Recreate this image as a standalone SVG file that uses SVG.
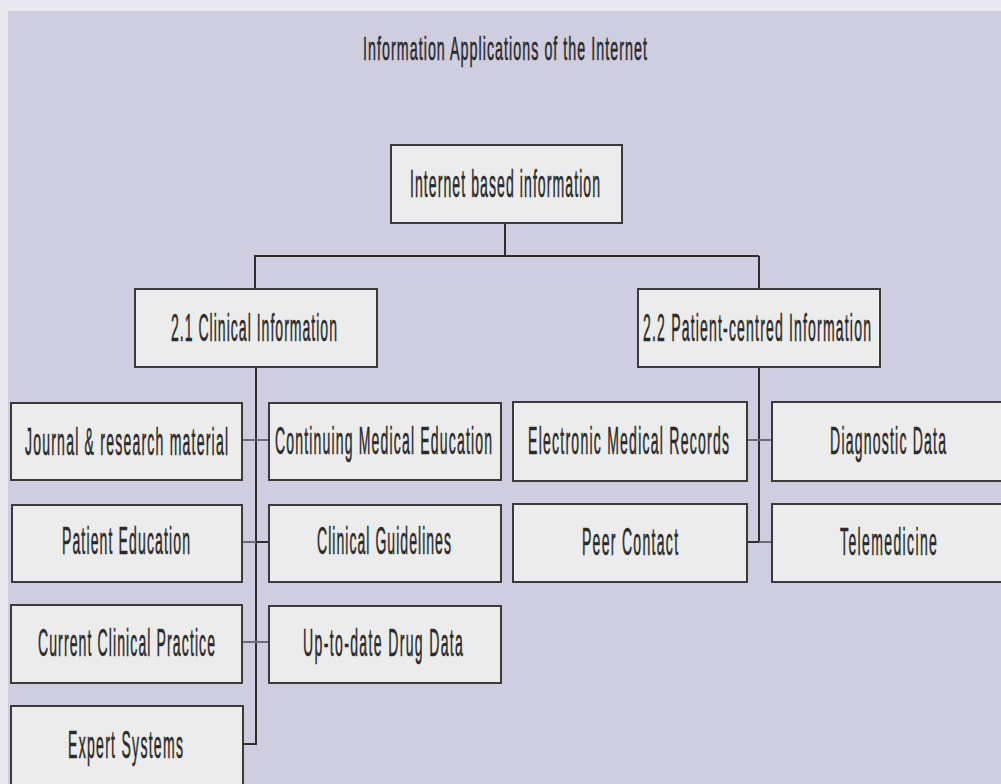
<svg xmlns="http://www.w3.org/2000/svg" width="1001" height="784" viewBox="0 0 1001 784">
<style>
.box{fill:#ececec;stroke:#3a3a3a;stroke-width:2}
.lbl{font-family:"Liberation Sans",Arial,sans-serif;font-size:39px;fill:#2a2a2a;stroke:#2a2a2a;stroke-width:0.6;text-anchor:middle}
.ttl{font-family:"Liberation Sans",Arial,sans-serif;font-size:34px;fill:#2a2a2a;stroke:#2a2a2a;stroke-width:0.6;text-anchor:middle}
.ln{stroke:#2e2e2e;stroke-width:2;fill:none}
.lt{stroke:#6a6a78;stroke-width:2;fill:none}
</style>
<rect x="0" y="0" width="1001" height="784" fill="#e8e8ee"/>
<rect x="8" y="11" width="993" height="773" fill="#cfcde0"/>
<text class="ttl" transform="translate(505,60) scale(0.42,1)" x="0" y="0" textLength="676" lengthAdjust="spacing">Information Applications of the Internet</text>
<g id="connectors">
<path class="ln" d="M505,223 V256 M255,256 H759 M255,255 V289 M759,256 V289"/>
<path class="ln" d="M256,367 V744 H243"/>
<path class="lt" d="M242,440 H269 M242,542 H256 M242,642 H269"/>
<path class="ln" d="M256,542 H269"/>
<path class="ln" d="M759,367 V542 H747"/>
<path class="lt" d="M747,440 H772 M759,542 H772"/>
</g>
<g id="n-root"><rect class="box" x="391" y="145" width="231" height="78"/><text class="lbl" transform="translate(505,197) scale(0.36,1)" x="0" y="0" textLength="528" lengthAdjust="spacing">Internet based information</text></g>
<g id="n-clinical"><rect class="box" x="135" y="289" width="242" height="78"/><text class="lbl" transform="translate(254,341) scale(0.36,1)" x="0" y="0" textLength="461" lengthAdjust="spacing">2.1 Clinical Information</text></g>
<g id="n-patient"><rect class="box" x="638" y="289" width="242" height="78"/><text class="lbl" transform="translate(757,341) scale(0.36,1)" x="0" y="0" textLength="633" lengthAdjust="spacing">2.2 Patient-centred Information</text></g>
<g id="n-journal"><rect class="box" x="11" y="403" width="231" height="77"/><text class="lbl" transform="translate(126.5,455) scale(0.36,1)" x="0" y="0" textLength="564" lengthAdjust="spacing">Journal &amp; research material</text></g>
<g id="n-cme"><rect class="box" x="269" y="403" width="232" height="77"/><text class="lbl" transform="translate(383.5,454) scale(0.36,1)" x="0" y="0" textLength="603" lengthAdjust="spacing">Continuing Medical Education</text></g>
<g id="n-pated"><rect class="box" x="12" y="505" width="230" height="77"/><text class="lbl" transform="translate(126,554) scale(0.36,1)" x="0" y="0" textLength="356" lengthAdjust="spacing">Patient Education</text></g>
<g id="n-guidelines"><rect class="box" x="269" y="505" width="232" height="77"/><text class="lbl" transform="translate(384,554) scale(0.36,1)" x="0" y="0" textLength="372" lengthAdjust="spacing">Clinical Guidelines</text></g>
<g id="n-practice"><rect class="box" x="11" y="605" width="231" height="78"/><text class="lbl" transform="translate(126.5,656) scale(0.36,1)" x="0" y="0" textLength="492" lengthAdjust="spacing">Current Clinical Practice</text></g>
<g id="n-drug"><rect class="box" x="269" y="606" width="232" height="77"/><text class="lbl" transform="translate(383,656) scale(0.36,1)" x="0" y="0" textLength="444" lengthAdjust="spacing">Up-to-date Drug Data</text></g>
<g id="n-expert"><rect class="box" x="11" y="706" width="232" height="85"/><text class="lbl" transform="translate(125.5,758) scale(0.36,1)" x="0" y="0" textLength="319" lengthAdjust="spacing">Expert Systems</text></g>
<g id="n-emr"><rect class="box" x="513" y="402" width="234" height="79"/><text class="lbl" transform="translate(628.5,454) scale(0.36,1)" x="0" y="0" textLength="558" lengthAdjust="spacing">Electronic Medical Records</text></g>
<g id="n-diag"><rect class="box" x="772" y="402" width="235" height="79"/><text class="lbl" transform="translate(888,454) scale(0.36,1)" x="0" y="0" textLength="322" lengthAdjust="spacing">Diagnostic Data</text></g>
<g id="n-peer"><rect class="box" x="513" y="504" width="234" height="78"/><text class="lbl" transform="translate(630,555) scale(0.36,1)" x="0" y="0" textLength="267" lengthAdjust="spacing">Peer Contact</text></g>
<g id="n-tele"><rect class="box" x="772" y="504" width="235" height="78"/><text class="lbl" transform="translate(888.5,555) scale(0.36,1)" x="0" y="0" textLength="269" lengthAdjust="spacing">Telemedicine</text></g>
</svg>
